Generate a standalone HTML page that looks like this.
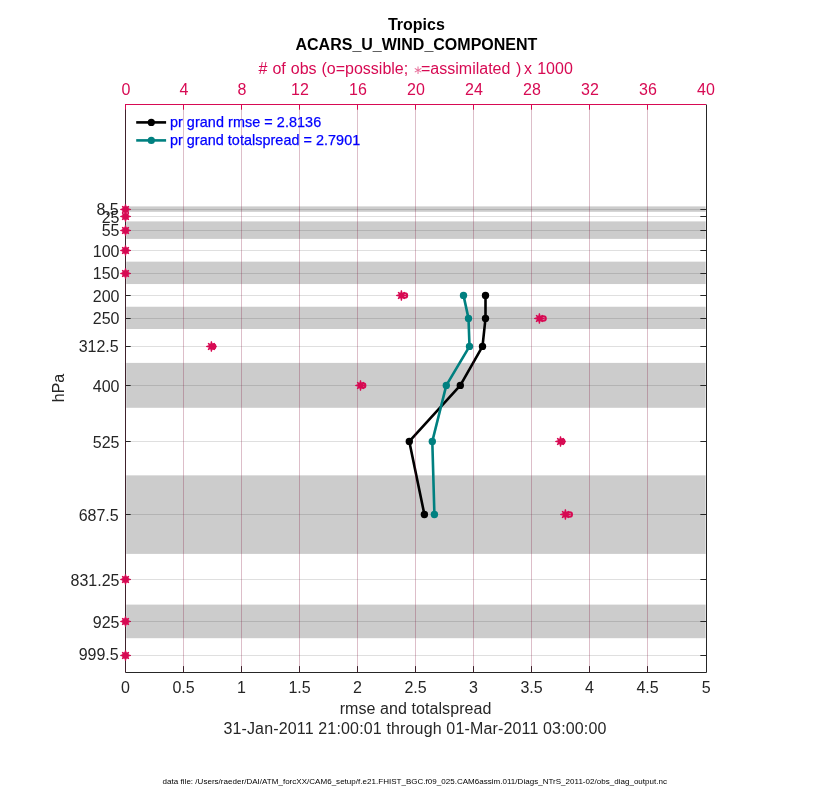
<!DOCTYPE html>
<html><head><meta charset="utf-8"><title>Tropics ACARS_U_WIND_COMPONENT</title>
<style>html,body{margin:0;padding:0;background:#fff}svg{display:block}text{font-family:"Liberation Sans",sans-serif}</style></head><body>
<svg width="830" height="800" viewBox="0 0 830 800">
<rect width="830" height="800" fill="#fff"/>
<g fill="#cccccc">
<rect x="126.2" y="206.4" width="579.4" height="5.40"/>
<rect x="126.2" y="221.4" width="579.4" height="17.50"/>
<rect x="126.2" y="261.65" width="579.4" height="22.40"/>
<rect x="126.2" y="306.75" width="579.4" height="22.25"/>
<rect x="126.2" y="362.9" width="579.4" height="44.90"/>
<rect x="126.2" y="475.35" width="579.4" height="78.55"/>
<rect x="126.2" y="604.6" width="579.4" height="33.60"/>
</g>
<g stroke="#262626" stroke-opacity="0.15" stroke-width="1">
<line x1="125.5" x2="706.5" y1="209.5" y2="209.5"/>
<line x1="125.5" x2="706.5" y1="216.5" y2="216.5"/>
<line x1="125.5" x2="706.5" y1="230.5" y2="230.5"/>
<line x1="125.5" x2="706.5" y1="250.5" y2="250.5"/>
<line x1="125.5" x2="706.5" y1="273.5" y2="273.5"/>
<line x1="125.5" x2="706.5" y1="295.5" y2="295.5"/>
<line x1="125.5" x2="706.5" y1="318.5" y2="318.5"/>
<line x1="125.5" x2="706.5" y1="346.5" y2="346.5"/>
<line x1="125.5" x2="706.5" y1="385.5" y2="385.5"/>
<line x1="125.5" x2="706.5" y1="441.5" y2="441.5"/>
<line x1="125.5" x2="706.5" y1="514.5" y2="514.5"/>
<line x1="125.5" x2="706.5" y1="579.5" y2="579.5"/>
<line x1="125.5" x2="706.5" y1="621.5" y2="621.5"/>
<line x1="125.5" x2="706.5" y1="655.5" y2="655.5"/>
<line x1="183.5" x2="183.5" y1="104.5" y2="672.5"/>
<line x1="241.5" x2="241.5" y1="104.5" y2="672.5"/>
<line x1="299.5" x2="299.5" y1="104.5" y2="672.5"/>
<line x1="357.5" x2="357.5" y1="104.5" y2="672.5"/>
<line x1="415.5" x2="415.5" y1="104.5" y2="672.5"/>
<line x1="473.5" x2="473.5" y1="104.5" y2="672.5"/>
<line x1="531.5" x2="531.5" y1="104.5" y2="672.5"/>
<line x1="589.5" x2="589.5" y1="104.5" y2="672.5"/>
<line x1="647.5" x2="647.5" y1="104.5" y2="672.5"/>
</g>
<g stroke="#262626" stroke-width="1" fill="none">
<path d="M125.5 104.5V672.5H706.5V104.5"/>
<line x1="183.5" x2="183.5" y1="672.5" y2="666.1"/>
<line x1="241.5" x2="241.5" y1="672.5" y2="666.1"/>
<line x1="299.5" x2="299.5" y1="672.5" y2="666.1"/>
<line x1="357.5" x2="357.5" y1="672.5" y2="666.1"/>
<line x1="415.5" x2="415.5" y1="672.5" y2="666.1"/>
<line x1="473.5" x2="473.5" y1="672.5" y2="666.1"/>
<line x1="531.5" x2="531.5" y1="672.5" y2="666.1"/>
<line x1="589.5" x2="589.5" y1="672.5" y2="666.1"/>
<line x1="647.5" x2="647.5" y1="672.5" y2="666.1"/>
<line x1="125.5" x2="130.7" y1="209.5" y2="209.5"/>
<line x1="706.5" x2="700.35" y1="209.5" y2="209.5"/>
<line x1="125.5" x2="130.7" y1="216.5" y2="216.5"/>
<line x1="706.5" x2="700.35" y1="216.5" y2="216.5"/>
<line x1="125.5" x2="130.7" y1="230.5" y2="230.5"/>
<line x1="706.5" x2="700.35" y1="230.5" y2="230.5"/>
<line x1="125.5" x2="130.7" y1="250.5" y2="250.5"/>
<line x1="706.5" x2="700.35" y1="250.5" y2="250.5"/>
<line x1="125.5" x2="130.7" y1="273.5" y2="273.5"/>
<line x1="706.5" x2="700.35" y1="273.5" y2="273.5"/>
<line x1="125.5" x2="130.7" y1="295.5" y2="295.5"/>
<line x1="706.5" x2="700.35" y1="295.5" y2="295.5"/>
<line x1="125.5" x2="130.7" y1="318.5" y2="318.5"/>
<line x1="706.5" x2="700.35" y1="318.5" y2="318.5"/>
<line x1="125.5" x2="130.7" y1="346.5" y2="346.5"/>
<line x1="706.5" x2="700.35" y1="346.5" y2="346.5"/>
<line x1="125.5" x2="130.7" y1="385.5" y2="385.5"/>
<line x1="706.5" x2="700.35" y1="385.5" y2="385.5"/>
<line x1="125.5" x2="130.7" y1="441.5" y2="441.5"/>
<line x1="706.5" x2="700.35" y1="441.5" y2="441.5"/>
<line x1="125.5" x2="130.7" y1="514.5" y2="514.5"/>
<line x1="706.5" x2="700.35" y1="514.5" y2="514.5"/>
<line x1="125.5" x2="130.7" y1="579.5" y2="579.5"/>
<line x1="706.5" x2="700.35" y1="579.5" y2="579.5"/>
<line x1="125.5" x2="130.7" y1="621.5" y2="621.5"/>
<line x1="706.5" x2="700.35" y1="621.5" y2="621.5"/>
<line x1="125.5" x2="130.7" y1="655.5" y2="655.5"/>
<line x1="706.5" x2="700.35" y1="655.5" y2="655.5"/>
</g>
<polyline points="485.5,295.4 485.5,318.4 482.5,346.4 460.3,385.4 409.3,441.4 424.4,514.5" fill="none" stroke="#000" stroke-width="2.6" stroke-linejoin="round"/>
<circle cx="485.5" cy="295.4" r="3.7" fill="#000"/>
<circle cx="485.5" cy="318.4" r="3.7" fill="#000"/>
<circle cx="482.5" cy="346.4" r="3.7" fill="#000"/>
<circle cx="460.3" cy="385.4" r="3.7" fill="#000"/>
<circle cx="409.3" cy="441.4" r="3.7" fill="#000"/>
<circle cx="424.4" cy="514.5" r="3.7" fill="#000"/>
<polyline points="463.5,295.4 468.5,318.4 469.5,346.4 446.3,385.4 432.3,441.4 434.4,514.5" fill="none" stroke="#008080" stroke-width="2.6" stroke-linejoin="round"/>
<circle cx="463.5" cy="295.4" r="3.7" fill="#008080"/>
<circle cx="468.5" cy="318.4" r="3.7" fill="#008080"/>
<circle cx="469.5" cy="346.4" r="3.7" fill="#008080"/>
<circle cx="446.3" cy="385.4" r="3.7" fill="#008080"/>
<circle cx="432.3" cy="441.4" r="3.7" fill="#008080"/>
<circle cx="434.4" cy="514.5" r="3.7" fill="#008080"/>
<line x1="136.2" x2="166.1" y1="122.4" y2="122.4" stroke="#000" stroke-width="2.6"/><circle cx="151.3" cy="122.4" r="3.6" fill="#000"/>
<line x1="136.2" x2="166.1" y1="140.4" y2="140.4" stroke="#008080" stroke-width="2.6"/><circle cx="151.3" cy="140.4" r="3.6" fill="#008080"/>
<text x="169.9" y="127.4" font-size="14.4" fill="#0000ff" stroke="#0000ff" stroke-width="0.25" textLength="151.3" lengthAdjust="spacing">pr grand rmse = 2.8136</text>
<text x="169.9" y="144.7" font-size="14.4" fill="#0000ff" stroke="#0000ff" stroke-width="0.25" textLength="190.3" lengthAdjust="spacing">pr grand totalspread = 2.7901</text>
<g stroke="#d70a53" stroke-opacity="0.15" stroke-width="1">
<line x1="183.5" x2="183.5" y1="104.5" y2="672.5"/>
<line x1="241.5" x2="241.5" y1="104.5" y2="672.5"/>
<line x1="299.5" x2="299.5" y1="104.5" y2="672.5"/>
<line x1="357.5" x2="357.5" y1="104.5" y2="672.5"/>
<line x1="415.5" x2="415.5" y1="104.5" y2="672.5"/>
<line x1="473.5" x2="473.5" y1="104.5" y2="672.5"/>
<line x1="531.5" x2="531.5" y1="104.5" y2="672.5"/>
<line x1="589.5" x2="589.5" y1="104.5" y2="672.5"/>
<line x1="647.5" x2="647.5" y1="104.5" y2="672.5"/>
</g>
<g stroke="#d70a53" stroke-width="1" fill="none">
<line x1="125.0" x2="706.0" y1="104.5" y2="104.5"/>
<line x1="125.5" x2="125.5" y1="104.5" y2="109.7"/>
<line x1="183.5" x2="183.5" y1="104.5" y2="109.7"/>
<line x1="241.5" x2="241.5" y1="104.5" y2="109.7"/>
<line x1="299.5" x2="299.5" y1="104.5" y2="109.7"/>
<line x1="357.5" x2="357.5" y1="104.5" y2="109.7"/>
<line x1="415.5" x2="415.5" y1="104.5" y2="109.7"/>
<line x1="473.5" x2="473.5" y1="104.5" y2="109.7"/>
<line x1="531.5" x2="531.5" y1="104.5" y2="109.7"/>
<line x1="589.5" x2="589.5" y1="104.5" y2="109.7"/>
<line x1="647.5" x2="647.5" y1="104.5" y2="109.7"/>
</g>
<line x1="125.5" x2="125.5" y1="109.7" y2="672.5" stroke="#d70a53" stroke-opacity="0.15"/>
<circle cx="125.50" cy="209.45" r="2.3" stroke="#d70a53" stroke-width="2.0" fill="none"/>
<path d="M120.20 208.90L122.90 208.35L128.10 208.35L130.80 208.90L130.80 210.00L128.10 210.55L122.90 210.55L120.20 210.00ZM126.05 204.15L126.60 206.85L126.60 212.05L126.05 214.75L124.95 214.75L124.40 212.05L124.40 206.85L124.95 204.15ZM122.52 205.69L124.62 207.02L127.93 210.33L129.26 212.43L128.48 213.21L126.38 211.88L123.07 208.57L121.74 206.47ZM129.26 206.47L127.93 208.57L124.62 211.88L122.52 213.21L121.74 212.43L123.07 210.33L126.38 207.02L128.48 205.69Z" fill="#d70a53"/>
<circle cx="125.50" cy="216.45" r="2.3" stroke="#d70a53" stroke-width="2.0" fill="none"/>
<path d="M120.20 215.90L122.90 215.35L128.10 215.35L130.80 215.90L130.80 217.00L128.10 217.55L122.90 217.55L120.20 217.00ZM126.05 211.15L126.60 213.85L126.60 219.05L126.05 221.75L124.95 221.75L124.40 219.05L124.40 213.85L124.95 211.15ZM122.52 212.69L124.62 214.02L127.93 217.33L129.26 219.43L128.48 220.21L126.38 218.88L123.07 215.57L121.74 213.47ZM129.26 213.47L127.93 215.57L124.62 218.88L122.52 220.21L121.74 219.43L123.07 217.33L126.38 214.02L128.48 212.69Z" fill="#d70a53"/>
<circle cx="125.50" cy="230.45" r="2.3" stroke="#d70a53" stroke-width="2.0" fill="none"/>
<path d="M120.20 229.90L122.90 229.35L128.10 229.35L130.80 229.90L130.80 231.00L128.10 231.55L122.90 231.55L120.20 231.00ZM126.05 225.15L126.60 227.85L126.60 233.05L126.05 235.75L124.95 235.75L124.40 233.05L124.40 227.85L124.95 225.15ZM122.52 226.69L124.62 228.02L127.93 231.33L129.26 233.43L128.48 234.21L126.38 232.88L123.07 229.57L121.74 227.47ZM129.26 227.47L127.93 229.57L124.62 232.88L122.52 234.21L121.74 233.43L123.07 231.33L126.38 228.02L128.48 226.69Z" fill="#d70a53"/>
<circle cx="125.50" cy="250.45" r="2.3" stroke="#d70a53" stroke-width="2.0" fill="none"/>
<path d="M120.20 249.90L122.90 249.35L128.10 249.35L130.80 249.90L130.80 251.00L128.10 251.55L122.90 251.55L120.20 251.00ZM126.05 245.15L126.60 247.85L126.60 253.05L126.05 255.75L124.95 255.75L124.40 253.05L124.40 247.85L124.95 245.15ZM122.52 246.69L124.62 248.02L127.93 251.33L129.26 253.43L128.48 254.21L126.38 252.88L123.07 249.57L121.74 247.47ZM129.26 247.47L127.93 249.57L124.62 252.88L122.52 254.21L121.74 253.43L123.07 251.33L126.38 248.02L128.48 246.69Z" fill="#d70a53"/>
<circle cx="125.50" cy="273.45" r="2.3" stroke="#d70a53" stroke-width="2.0" fill="none"/>
<path d="M120.20 272.90L122.90 272.35L128.10 272.35L130.80 272.90L130.80 274.00L128.10 274.55L122.90 274.55L120.20 274.00ZM126.05 268.15L126.60 270.85L126.60 276.05L126.05 278.75L124.95 278.75L124.40 276.05L124.40 270.85L124.95 268.15ZM122.52 269.69L124.62 271.02L127.93 274.33L129.26 276.43L128.48 277.21L126.38 275.88L123.07 272.57L121.74 270.47ZM129.26 270.47L127.93 272.57L124.62 275.88L122.52 277.21L121.74 276.43L123.07 274.33L126.38 271.02L128.48 269.69Z" fill="#d70a53"/>
<circle cx="404.90" cy="295.45" r="2.3" stroke="#d70a53" stroke-width="2.0" fill="none"/>
<path d="M396.10 294.90L398.80 294.35L404.00 294.35L406.70 294.90L406.70 296.00L404.00 296.55L398.80 296.55L396.10 296.00ZM401.95 290.15L402.50 292.85L402.50 298.05L401.95 300.75L400.85 300.75L400.30 298.05L400.30 292.85L400.85 290.15ZM398.42 291.69L400.52 293.02L403.83 296.33L405.16 298.43L404.38 299.21L402.28 297.88L398.97 294.57L397.64 292.47ZM405.16 292.47L403.83 294.57L400.52 297.88L398.42 299.21L397.64 298.43L398.97 296.33L402.28 293.02L404.38 291.69Z" fill="#d70a53"/>
<circle cx="543.50" cy="318.45" r="2.3" stroke="#d70a53" stroke-width="2.0" fill="none"/>
<path d="M534.10 317.90L536.80 317.35L542.00 317.35L544.70 317.90L544.70 319.00L542.00 319.55L536.80 319.55L534.10 319.00ZM539.95 313.15L540.50 315.85L540.50 321.05L539.95 323.75L538.85 323.75L538.30 321.05L538.30 315.85L538.85 313.15ZM536.42 314.69L538.52 316.02L541.83 319.33L543.16 321.43L542.38 322.21L540.28 320.88L536.97 317.57L535.64 315.47ZM543.16 315.47L541.83 317.57L538.52 320.88L536.42 322.21L535.64 321.43L536.97 319.33L540.28 316.02L542.38 314.69Z" fill="#d70a53"/>
<circle cx="213.10" cy="346.45" r="2.3" stroke="#d70a53" stroke-width="2.0" fill="none"/>
<path d="M206.10 345.90L208.80 345.35L214.00 345.35L216.70 345.90L216.70 347.00L214.00 347.55L208.80 347.55L206.10 347.00ZM211.95 341.15L212.50 343.85L212.50 349.05L211.95 351.75L210.85 351.75L210.30 349.05L210.30 343.85L210.85 341.15ZM208.42 342.69L210.52 344.02L213.83 347.33L215.16 349.43L214.38 350.21L212.28 348.88L208.97 345.57L207.64 343.47ZM215.16 343.47L213.83 345.57L210.52 348.88L208.42 350.21L207.64 349.43L208.97 347.33L212.28 344.02L214.38 342.69Z" fill="#d70a53"/>
<circle cx="363.10" cy="385.45" r="2.3" stroke="#d70a53" stroke-width="2.0" fill="none"/>
<path d="M355.20 384.90L357.90 384.35L363.10 384.35L365.80 384.90L365.80 386.00L363.10 386.55L357.90 386.55L355.20 386.00ZM361.05 380.15L361.60 382.85L361.60 388.05L361.05 390.75L359.95 390.75L359.40 388.05L359.40 382.85L359.95 380.15ZM357.52 381.69L359.62 383.02L362.93 386.33L364.26 388.43L363.48 389.21L361.38 387.88L358.07 384.57L356.74 382.47ZM364.26 382.47L362.93 384.57L359.62 387.88L357.52 389.21L356.74 388.43L358.07 386.33L361.38 383.02L363.48 381.69Z" fill="#d70a53"/>
<circle cx="562.20" cy="441.45" r="2.3" stroke="#d70a53" stroke-width="2.0" fill="none"/>
<path d="M555.20 440.90L557.90 440.35L563.10 440.35L565.80 440.90L565.80 442.00L563.10 442.55L557.90 442.55L555.20 442.00ZM561.05 436.15L561.60 438.85L561.60 444.05L561.05 446.75L559.95 446.75L559.40 444.05L559.40 438.85L559.95 436.15ZM557.52 437.69L559.62 439.02L562.93 442.33L564.26 444.43L563.48 445.21L561.38 443.88L558.07 440.57L556.74 438.47ZM564.26 438.47L562.93 440.57L559.62 443.88L557.52 445.21L556.74 444.43L558.07 442.33L561.38 439.02L563.48 437.69Z" fill="#d70a53"/>
<circle cx="569.70" cy="514.45" r="2.3" stroke="#d70a53" stroke-width="2.0" fill="none"/>
<path d="M560.10 513.90L562.80 513.35L568.00 513.35L570.70 513.90L570.70 515.00L568.00 515.55L562.80 515.55L560.10 515.00ZM565.95 509.15L566.50 511.85L566.50 517.05L565.95 519.75L564.85 519.75L564.30 517.05L564.30 511.85L564.85 509.15ZM562.42 510.69L564.52 512.02L567.83 515.33L569.16 517.43L568.38 518.21L566.28 516.88L562.97 513.57L561.64 511.47ZM569.16 511.47L567.83 513.57L564.52 516.88L562.42 518.21L561.64 517.43L562.97 515.33L566.28 512.02L568.38 510.69Z" fill="#d70a53"/>
<circle cx="125.50" cy="579.45" r="2.3" stroke="#d70a53" stroke-width="2.0" fill="none"/>
<path d="M120.20 578.90L122.90 578.35L128.10 578.35L130.80 578.90L130.80 580.00L128.10 580.55L122.90 580.55L120.20 580.00ZM126.05 574.15L126.60 576.85L126.60 582.05L126.05 584.75L124.95 584.75L124.40 582.05L124.40 576.85L124.95 574.15ZM122.52 575.69L124.62 577.02L127.93 580.33L129.26 582.43L128.48 583.21L126.38 581.88L123.07 578.57L121.74 576.47ZM129.26 576.47L127.93 578.57L124.62 581.88L122.52 583.21L121.74 582.43L123.07 580.33L126.38 577.02L128.48 575.69Z" fill="#d70a53"/>
<circle cx="125.50" cy="621.45" r="2.3" stroke="#d70a53" stroke-width="2.0" fill="none"/>
<path d="M120.20 620.90L122.90 620.35L128.10 620.35L130.80 620.90L130.80 622.00L128.10 622.55L122.90 622.55L120.20 622.00ZM126.05 616.15L126.60 618.85L126.60 624.05L126.05 626.75L124.95 626.75L124.40 624.05L124.40 618.85L124.95 616.15ZM122.52 617.69L124.62 619.02L127.93 622.33L129.26 624.43L128.48 625.21L126.38 623.88L123.07 620.57L121.74 618.47ZM129.26 618.47L127.93 620.57L124.62 623.88L122.52 625.21L121.74 624.43L123.07 622.33L126.38 619.02L128.48 617.69Z" fill="#d70a53"/>
<circle cx="125.50" cy="655.45" r="2.3" stroke="#d70a53" stroke-width="2.0" fill="none"/>
<path d="M120.20 654.90L122.90 654.35L128.10 654.35L130.80 654.90L130.80 656.00L128.10 656.55L122.90 656.55L120.20 656.00ZM126.05 650.15L126.60 652.85L126.60 658.05L126.05 660.75L124.95 660.75L124.40 658.05L124.40 652.85L124.95 650.15ZM122.52 651.69L124.62 653.02L127.93 656.33L129.26 658.43L128.48 659.21L126.38 657.88L123.07 654.57L121.74 652.47ZM129.26 652.47L127.93 654.57L124.62 657.88L122.52 659.21L121.74 658.43L123.07 656.33L126.38 653.02L128.48 651.69Z" fill="#d70a53"/>
<g font-size="16" fill="#262626" text-anchor="end">
<text x="118.7" y="215">8.5</text>
<text x="119.5" y="223">25</text>
<text x="119.5" y="236">55</text>
<text x="119.5" y="257">100</text>
<text x="119.5" y="279">150</text>
<text x="119.5" y="302">200</text>
<text x="119.5" y="324">250</text>
<text x="118.7" y="352">312.5</text>
<text x="119.5" y="392">400</text>
<text x="119.5" y="448">525</text>
<text x="118.7" y="521">687.5</text>
<text x="119.5" y="586">831.25</text>
<text x="119.5" y="628">925</text>
<text x="118.7" y="660">999.5</text>
</g>
<g font-size="16" fill="#262626" text-anchor="middle">
<text x="125.5" y="692.8">0</text>
<text x="183.5" y="692.8">0.5</text>
<text x="241.5" y="692.8">1</text>
<text x="299.5" y="692.8">1.5</text>
<text x="357.5" y="692.8">2</text>
<text x="415.5" y="692.8">2.5</text>
<text x="473.5" y="692.8">3</text>
<text x="531.5" y="692.8">3.5</text>
<text x="589.5" y="692.8">4</text>
<text x="647.5" y="692.8">4.5</text>
<text x="706.3" y="692.8">5</text>
</g>
<g font-size="16" fill="#d70a53" text-anchor="middle">
<text x="126.0" y="94.8">0</text>
<text x="184.0" y="94.8">4</text>
<text x="242.0" y="94.8">8</text>
<text x="300.0" y="94.8">12</text>
<text x="358.0" y="94.8">16</text>
<text x="416.0" y="94.8">20</text>
<text x="474.0" y="94.8">24</text>
<text x="532.0" y="94.8">28</text>
<text x="590.0" y="94.8">32</text>
<text x="648.0" y="94.8">36</text>
<text x="706.0" y="94.8">40</text>
</g>
<text x="416.4" y="30.1" font-size="16" font-weight="bold" fill="#000" text-anchor="middle">Tropics</text>
<text x="416.4" y="49.6" font-size="16" font-weight="bold" fill="#000" text-anchor="middle">ACARS_U_WIND_COMPONENT</text>
<text y="74.1" font-size="16" fill="#d70a53"><tspan x="258.6" word-spacing="0.5"># of obs (o=possible;</tspan><tspan x="412.9" dy="-0.6" font-size="12" fill-opacity="0.6">∗</tspan><tspan x="421.0" dy="0.6">=assimilated</tspan><tspan x="516.0">)</tspan><tspan x="524.0">x</tspan><tspan x="537.2">1000</tspan></text>
<text x="339.7" y="713.5" font-size="16" fill="#262626" textLength="151.7" lengthAdjust="spacing">rmse and totalspread</text>
<text x="223.4" y="733.6" font-size="16" fill="#262626" textLength="383" lengthAdjust="spacing">31-Jan-2011 21:00:01 through 01-Mar-2011 03:00:00</text>
<text transform="translate(64.4 388) rotate(-90)" font-size="16" fill="#262626" text-anchor="middle">hPa</text>
<text x="162.6" y="784.2" font-size="8" fill="#000" textLength="504.4" lengthAdjust="spacing">data file: /Users/raeder/DAI/ATM_forcXX/CAM6_setup/f.e21.FHIST_BGC.f09_025.CAM6assim.011/Diags_NTrS_2011-02/obs_diag_output.nc</text>
</svg></body></html>
